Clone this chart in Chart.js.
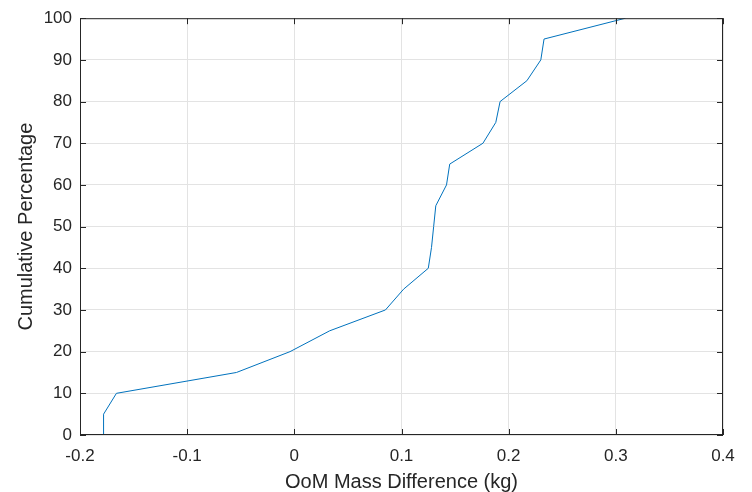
<!DOCTYPE html>
<html>
<head>
<meta charset="utf-8">
<script src="https://cdn.jsdelivr.net/npm/chart.js@4/dist/chart.umd.min.js"></script>
<style>
  html, body { margin: 0; padding: 0; background: #fff; }
  #wrap { width: 752px; height: 492px; }
</style>
</head>
<body>
<div id="wrap"><canvas id="cdfChart"></canvas></div>
<script>
// cumulative percentage vs mass difference
const massDiff = [-0.178, -0.178, -0.166, -0.054, -0.004, 0.033, 0.085, 0.102, 0.125, 0.128, 0.130,
                  0.132, 0.142, 0.145, 0.176, 0.188, 0.192, 0.217, 0.230, 0.233, 0.309];
const cumPct = [0, 5, 10, 15, 20, 25, 30, 35, 40, 45, 50, 55, 60, 65, 70, 75, 80, 85, 90, 95, 100];
const xTicks = [-0.2, -0.1, 0, 0.1, 0.2, 0.3, 0.4];
const yTicks = [0, 10, 20, 30, 40, 50, 60, 70, 80, 90, 100];

const axisColor = '#262626';
const fontFam = '"Liberation Sans", Arial, sans-serif';

// matlab style box with inward ticks
const boxPlugin = {
  id: 'boxPlugin',
  afterDraw(chart) {
    const { ctx, chartArea: a, scales } = chart;
    ctx.save();
    ctx.strokeStyle = axisColor;
    ctx.lineWidth = 1;
    ctx.strokeRect(a.left + 0.5, a.top + 0.5, a.right - a.left - 1, a.bottom - a.top - 1);
    ctx.beginPath();
    xTicks.forEach(v => {
      const px = Math.round(scales.x.getPixelForValue(v)) + 0.5;
      ctx.moveTo(px, a.bottom); ctx.lineTo(px, a.bottom - 6);
      ctx.moveTo(px, a.top); ctx.lineTo(px, a.top + 6);
    });
    yTicks.forEach(v => {
      const py = Math.round(scales.y.getPixelForValue(v)) + 0.5;
      ctx.moveTo(a.left, py); ctx.lineTo(a.left + 6, py);
      ctx.moveTo(a.right, py); ctx.lineTo(a.right - 6, py);
    });
    ctx.stroke();
    ctx.restore();
  }
};

const ctx = document.getElementById('cdfChart').getContext('2d');
const cdfChart = new Chart(ctx, {
  type: 'scatter',
  data: {
    datasets: [
      {
        data: massDiff.map((x, i) => ({ x: x, y: cumPct[i] })),
        showLine: true,
        borderColor: '#0072BD',
        borderWidth: 1,
        pointRadius: 0,
        fill: false,
        tension: 0
      }
    ]
  },
  options: {
    animation: false,
    responsive: true,
    maintainAspectRatio: false,
    layout: { padding: { top: 16, right: 29, left: 0, bottom: 0 } },
    scales: {
      x: {
        type: 'linear',
        min: -0.2,
        max: 0.4,
        afterBuildTicks: s => { s.ticks = xTicks.map(v => ({ value: v })); },
        afterFit: s => { s.height = 57; },
        border: { display: false },
        grid: { color: '#e3e3e3', drawTicks: false },
        ticks: {
          color: axisColor,
          padding: 11,
          font: { family: fontFam, size: 17 },
          callback: v => String(Math.round(v * 10) / 10)
        },
        title: {
          display: true,
          text: 'OoM Mass Difference (kg)',
          color: axisColor,
          padding: { top: 0, bottom: 0 },
          font: { family: fontFam, size: 20, lineHeight: 1 }
        }
      },
      y: {
        type: 'linear',
        min: 0,
        max: 100,
        afterBuildTicks: s => { s.ticks = yTicks.map(v => ({ value: v })); },
        afterFit: s => { s.width = 80; },
        border: { display: false },
        grid: { color: '#e3e3e3', drawTicks: false },
        ticks: {
          color: axisColor,
          padding: 8,
          font: { family: fontFam, size: 17 }
        },
        title: {
          display: true,
          text: 'Cumulative Percentage',
          color: axisColor,
          padding: { top: 14, bottom: 0 },
          font: { family: fontFam, size: 20 }
        }
      }
    },
    plugins: {
      legend: { display: false },
      tooltip: { enabled: false }
    }
  },
  plugins: [boxPlugin]
});
</script>
</body>
</html>
